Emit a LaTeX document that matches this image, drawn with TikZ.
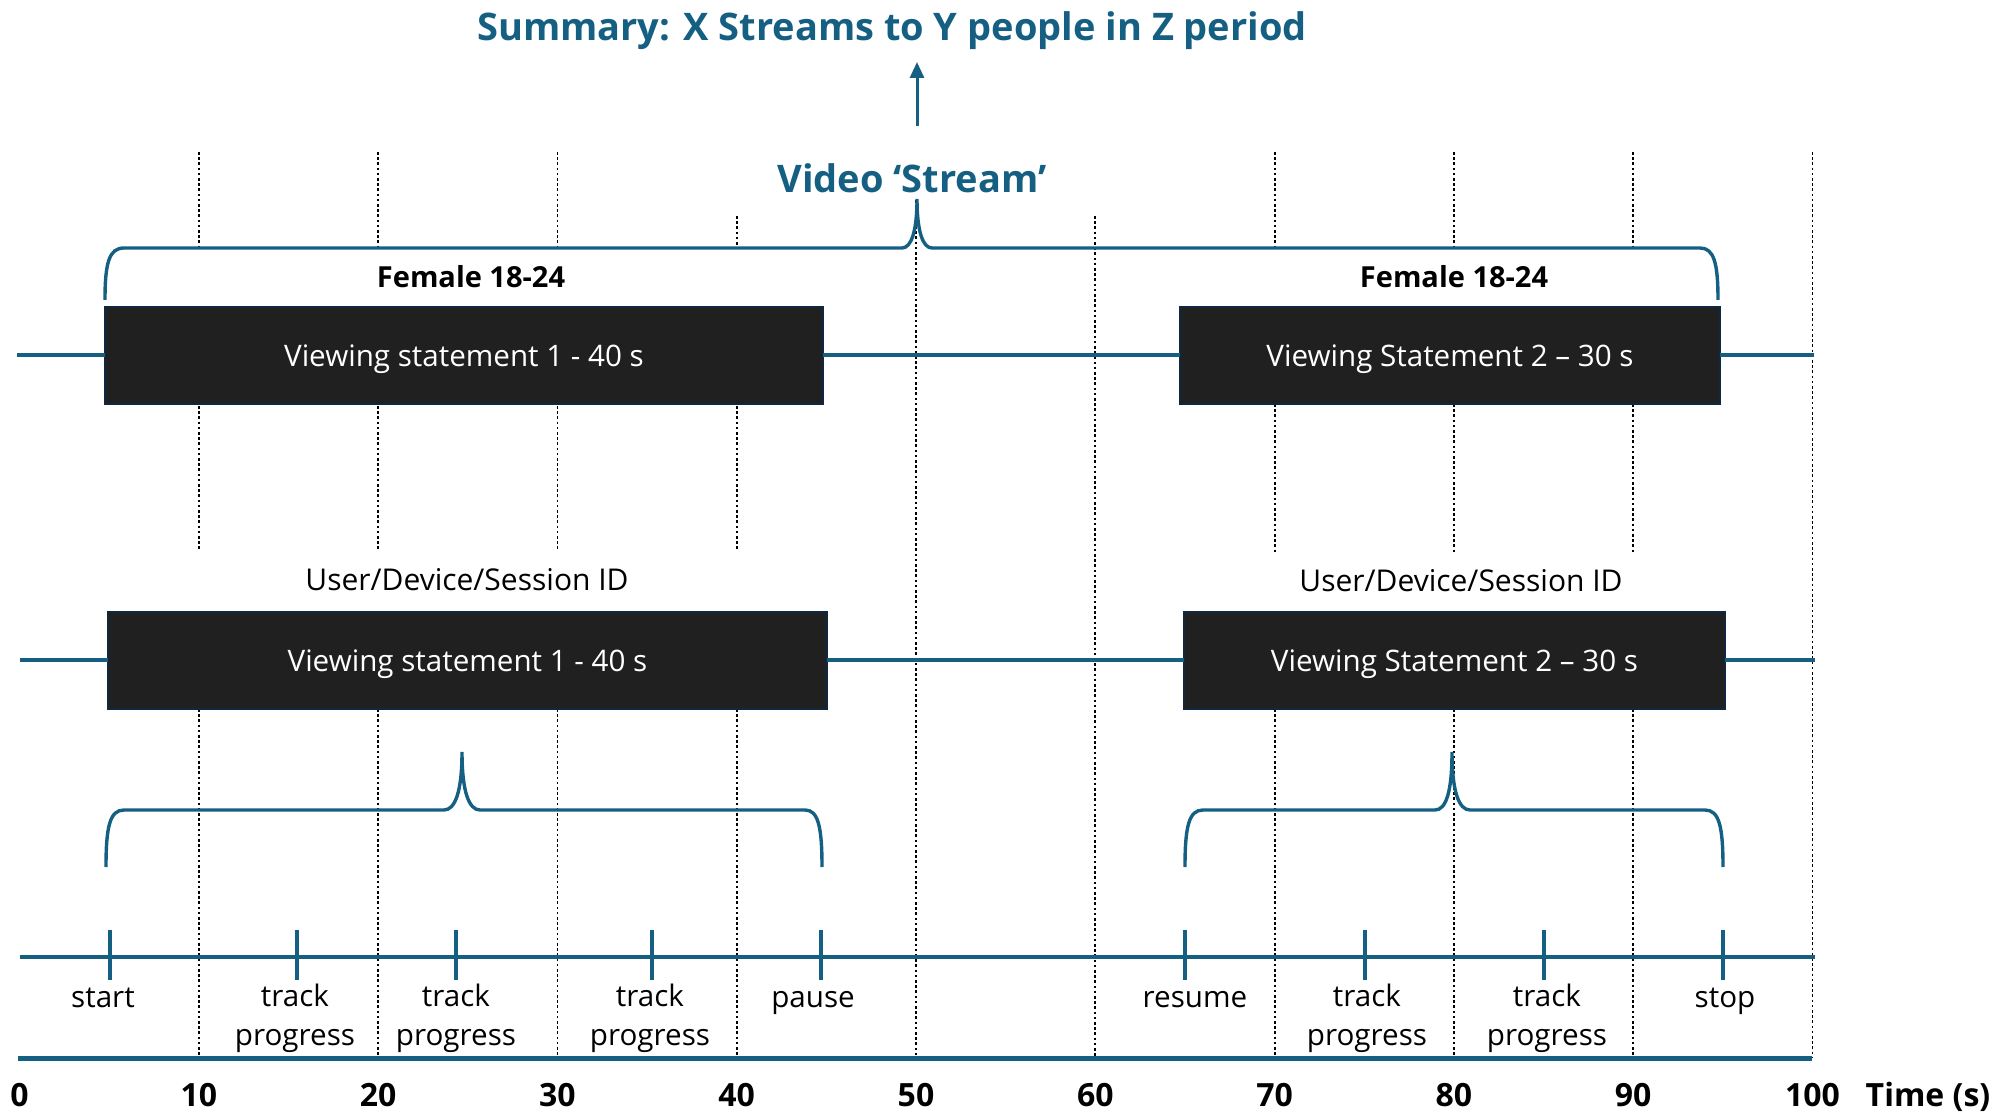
\documentclass[tikz,border=0pt]{standalone}
\usepackage{fontspec}
\setmainfont{Open Sans}
\usetikzlibrary{arrows.meta}
\definecolor{streamblue}{HTML}{156082}
\definecolor{boxfill}{HTML}{202020}
\definecolor{boxedge}{HTML}{0E2841}

\begin{document}
\begin{tikzpicture}[x=0.5pt,y=-0.5pt,
  tline/.style={draw=streamblue, line width=2pt},
  gridline/.style={draw=black, line width=0.9pt, dash pattern=on 1.3pt off 1.3pt},
  bracket/.style={draw=streamblue, line width=1.7pt},
  vsbox/.style={rectangle, fill=boxfill, draw=boxedge, line width=0.8pt,
    text=white, font=\fontsize{14.8}{17}\selectfont, minimum height=48.5pt,
    text height=10.6pt, text depth=0pt,
    inner sep=0pt, outer sep=0pt, anchor=north west},
  evlabel/.style={font=\fontsize{14.8}{19.5}\selectfont, align=center, inner sep=0pt, anchor=base},
  idlabel/.style={font=\fontsize{15}{17}\selectfont, inner sep=0pt, anchor=base},
  grouplabel/.style={font=\bfseries\fontsize{14.5}{16}\selectfont, inner sep=0pt, anchor=base},
  headline/.style={font=\bfseries\fontsize{19}{22}\selectfont, text=streamblue, inner sep=0pt, anchor=base},
  tnum/.style={font=\bfseries\fontsize{16}{18}\selectfont, inner sep=0pt, anchor=base}]

\useasboundingbox (0,0) rectangle (2010,1117);

% dotted time grid (x = 19.5 + 17.93 t)
\foreach \t/\a/\b in {10/152/248, 20/152/248, 30/152/248, 40/216/248,
                      70/152/248, 80/152/248, 90/152/248,
                      10/406/549, 20/406/549, 30/406/549, 40/406/549,
                      70/404/553, 80/404/553, 90/404/553,
                      10/709/1058, 20/709/1058, 30/709/1058, 40/709/1058,
                      70/709/1058, 80/709/1058, 90/709/1058,
                      50/200/1058, 60/216/1058, 100/152/1058}
  \draw[gridline] ({19.5+17.93*\t},\a) -- ({19.5+17.93*\t},\b);

% headline and stream label
\node[headline] (summary) at (892,41) {Summary: X Streams to Y people in Z period};
\node[headline] (stream) at (912,193) {Video ‘Stream’};
\coordinate (arrowbase) at (917,126);
\coordinate (arrowtip) at (917,62);
\draw[streamblue, line width=1.5pt, -{Triangle[length=8pt,width=7pt]}] (arrowbase) -- (arrowtip);

% stream bracket over both statements
\draw[bracket] (105,300) .. controls (105,263) and (109,248) .. (124,248)
  -- (902,248) .. controls (911,248) and (917,232) .. (917,199)
  .. controls (917,232) and (923,248) .. (932,248)
  -- (1700,248) .. controls (1714,248) and (1718,263) .. (1718,300);

\node[grouplabel] (grpA) at (471,288) {Female 18-24};
\node[grouplabel] (grpB) at (1454,288) {Female 18-24};

% demographic row
\coordinate (uL) at (17,355.5);
\coordinate (uR) at (1814,355.5);
\node[vsbox, minimum width=359pt] (stA) at (105,307) {Viewing statement 1 - 40 s};
\node[vsbox, minimum width=270pt] (stB) at (1180,307) {Viewing Statement 2 – 30 s};
\draw[tline] (uL) -- (stA.west);
\draw[tline] (stA.east) -- (stB.west);
\draw[tline] (stB.east) -- (uR);

% session row
\node[idlabel] (idA) at (467,591) {User/Device/Session ID};
\node[idlabel] (idB) at (1461,592) {User/Device/Session ID};
\coordinate (lL) at (20,660.5);
\coordinate (lR) at (1815,660.5);
\node[vsbox, minimum width=359.5pt] (svA) at (108,612) {Viewing statement 1 - 40 s};
\node[vsbox, minimum width=270.5pt] (svB) at (1184,612) {Viewing Statement 2 – 30 s};
\draw[tline] (lL) -- (svA.west);
\draw[tline] (svA.east) -- (svB.west);
\draw[tline] (svB.east) -- (lR);

% event brackets
\draw[bracket] (106,867) .. controls (106,826) and (110,810) .. (124,810)
  -- (444,810) .. controls (455,810) and (462,792) .. (462,752)
  .. controls (462,792) and (469,810) .. (480,810)
  -- (805,810) .. controls (818,810) and (822,826) .. (822,867);
\draw[bracket] (1185,867) .. controls (1185,826) and (1189,810) .. (1203,810)
  -- (1435,810) .. controls (1446,810) and (1452,792) .. (1452,752)
  .. controls (1452,792) and (1459,810) .. (1470,810)
  -- (1705,810) .. controls (1719,810) and (1723,826) .. (1723,867);

% event track with ticks
\coordinate (eL) at (20,957);
\coordinate (eR) at (1815,957);
\draw[tline] (eL) -- (eR);
\foreach \x [count=\i] in {110,297,456,652,821,1185,1365,1544,1723} {
  \coordinate (ev\i) at (\x,957);
  \draw[tline] (\x,930) -- (\x,980);
}

\node[evlabel] (lbStart) at (103,1007) {start};
\node[evlabel] (lbT1) at (295,1045) {track\\progress};
\node[evlabel] (lbT2) at (456,1045) {track\\progress};
\node[evlabel] (lbT3) at (650,1045) {track\\progress};
\node[evlabel] (lbPause) at (813,1007) {pause};
\node[evlabel] (lbResume) at (1195,1007) {resume};
\node[evlabel] (lbT4) at (1367,1045) {track\\progress};
\node[evlabel] (lbT5) at (1547,1045) {track\\progress};
\node[evlabel] (lbStop) at (1725,1007) {stop};

% time axis
\coordinate (aL) at (18,1058);
\coordinate (aR) at (1812,1058);
\draw[draw=streamblue, line width=2.5pt] (aL) -- (aR);
\foreach \t in {0,10,...,100}
  \node[tnum] (n\t) at ({19.5+17.93*\t},1106) {\t};
\node[tnum] (tlabel) at (1928,1106) {Time (s)};

\end{tikzpicture}
\end{document}
